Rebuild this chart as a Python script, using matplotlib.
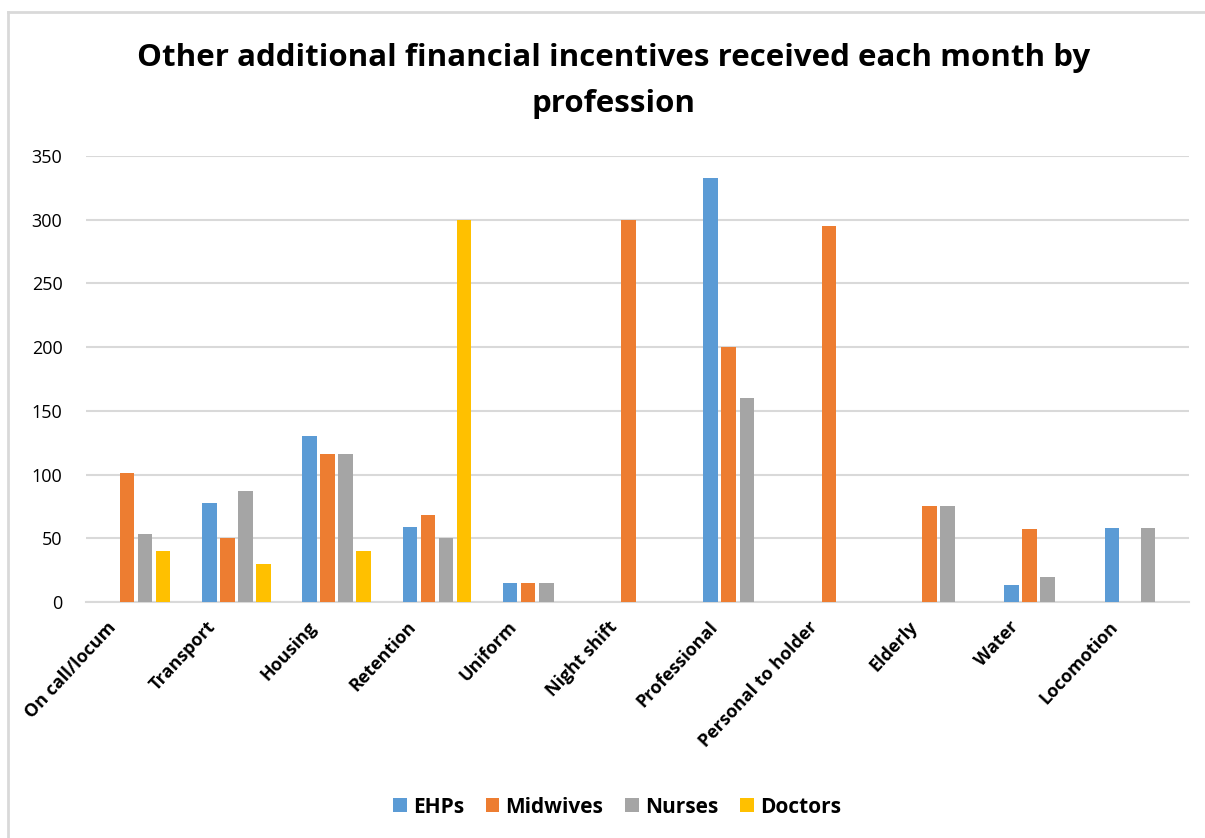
import numpy as np
import matplotlib.pyplot as plt
from matplotlib.lines import Line2D
from matplotlib.transforms import ScaledTranslation

plt.rcParams['font.family'] = ['Open Sans', 'DejaVu Sans']

# Catégories et valeurs
categories = ["On call/locum", "Transport", "Housing", "Retention", "Uniform",
              "Night shift", "Professional", "Personal to holder", "Elderly",
              "Water", "Locomotion"]
ehps = [0, 78, 130, 59, 15, 0, 333, 0, 0, 13, 58]
midwives = [101, 50, 116, 68, 15, 300, 200, 295, 75, 57, 0]
nurses = [53, 87, 116, 50, 15, 0, 160, 0, 75, 20, 58]
doctors = [40, 30, 40, 300, 0, 0, 0, 0, 0, 0, 0]

series = [("EHPs", ehps, "#5b9bd5"),
          ("Midwives", midwives, "#ed7d31"),
          ("Nurses", nurses, "#a5a5a5"),
          ("Doctors", doctors, "#ffc000")]

W, H = 1205, 838
fig = plt.figure(figsize=(W / 100, H / 100), dpi=100)
ax = fig.add_axes([86 / W, 1 - 602 / H, (1189 - 86) / W, (602 - 156) / H])

x = np.arange(len(categories))
step = 0.18
for i, (nom, vals, coul) in enumerate(series):
    ax.bar(x + (i - 1.5) * step, vals, width=0.145, color=coul, label=nom, zorder=3)

ax.set_xlim(-0.5, len(categories) - 0.5)
ax.set_ylim(0, 350)
ax.set_yticks(range(0, 351, 50))
ax.yaxis.grid(True, color="#d9d9d9", linewidth=1.5, zorder=0)
ax.tick_params(axis="both", length=0)
ax.tick_params(axis="y", labelsize=13, pad=17)
for s in ["top", "right", "left"]:
    ax.spines[s].set_visible(False)
ax.spines["bottom"].set_color("#d9d9d9")
ax.spines["bottom"].set_linewidth(1.5)

ax.set_xticks(x)
ax.set_xticklabels(categories, rotation=47, ha="right", rotation_mode="anchor",
                   fontsize=13, fontweight="bold")
ax.tick_params(axis="x", pad=0)
# décalage des étiquettes (vers la gauche et le bas)
decal = ScaledTranslation(-30 / 100, -16 / 100, fig.dpi_scale_trans)
for lab in ax.get_xticklabels():
    lab.set_transform(lab.get_transform() + decal)

# Titre sur deux lignes
fig.text(614 / W, 1 - 66 / H, "Other additional financial incentives received each month by",
         ha="center", va="baseline", fontsize=22.5, fontweight="bold")
fig.text(614 / W, 1 - 112 / H, "profession",
         ha="center", va="baseline", fontsize=22.5, fontweight="bold")

fig.legend(loc="center", bbox_to_anchor=(617 / W, 1 - 807 / H), ncol=4, frameon=False,
           prop={"weight": "bold", "size": 15}, handlelength=0.65, handleheight=0.65,
           handletextpad=0.3, columnspacing=1.05)

# Cadre du graphique
fig.add_artist(Line2D([8 / W, 8 / W], [0, 1 - 12 / H], color="#d9d9d9", lw=2))
fig.add_artist(Line2D([8 / W, 1], [1 - 12 / H, 1 - 12 / H], color="#d9d9d9", lw=2))

plt.savefig("out.png", dpi=100)
